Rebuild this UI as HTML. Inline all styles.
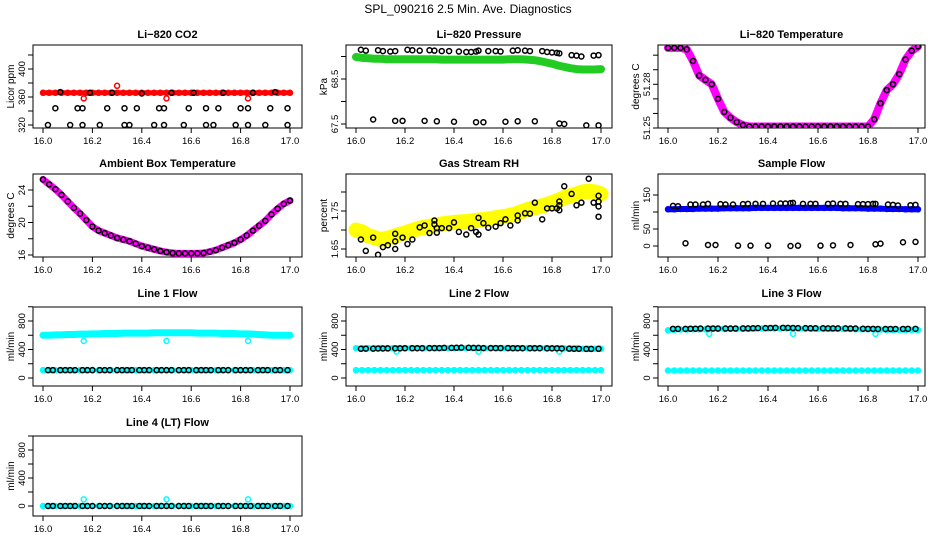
<!DOCTYPE html>
<html><head><meta charset="utf-8"><style>
body{margin:0;background:#fff;}
svg{display:block;font-family:"Liberation Sans",sans-serif;}
</style></head><body>
<svg id="c" width="936" height="540" viewBox="0 0 936 540">
<text x="468" y="13" text-anchor="middle" font-size="12">SPL_090216  2.5 Min. Ave. Diagnostics</text>
</svg>
<script>
const T41=[16.0,16.025,16.05,16.075,16.1,16.125,16.15,16.175,16.2,16.225,16.25,16.275,16.3,16.325,16.35,16.375,16.4,16.425,16.45,16.475,16.5,16.525,16.55,16.575,16.6,16.625,16.65,16.675,16.7,16.725,16.75,16.775,16.8,16.825,16.85,16.875,16.9,16.925,16.95,16.975,17.0];
const TB=[16.02,16.04,16.07,16.09,16.11,16.13,16.16,16.18,16.20,16.23,16.25,16.27,16.30,16.32,16.34,16.36,16.39,16.41,16.43,16.46,16.48,16.50,16.52,16.55,16.57,16.59,16.62,16.64,16.66,16.68,16.71,16.73,16.75,16.78,16.80,16.82,16.84,16.87,16.89,16.91,16.94,16.96,16.99];
const co2Red=[366,366,366,366,366,366,366,366,366,366,366,366,366,366,366,366,366,366,366,366,366,366,366,366,366,366,366,366,366,366,366,366,366,366,366,366,366,366,366,366,366];
const co2RedOutX=[16.165,16.30,16.50,16.83];
const co2RedOutY=[358,376,358,358];
const co2BlackX=[16.09,16.16,16.21,16.30,16.32,16.42,16.50,16.54,16.63,16.66,16.76,16.83,16.88,16.97,16.99,16.07,16.19,16.28,16.40,16.52,16.61,16.73,16.85,16.94,16.05,16.14,16.16,16.26,16.33,16.38,16.47,16.49,16.59,16.66,16.71,16.80,16.83,16.92,16.99,16.02,16.11,16.16,16.23,16.33,16.35,16.45,16.49,16.57,16.66,16.69,16.78,16.83,16.90,16.99];
const co2BlackY=[441,441,441,441,441,441,441,441,441,441,441,441,441,441,441,367,366,366,365,366,366,366,366,367,344,344,344,344,344,344,344,344,344,344,344,344,344,344,344,320,320,320,320,320,320,320,320,320,320,320,320,320,320,320];
const presGreen=[68.99,68.97,68.96,68.95,68.95,68.94,68.94,68.94,68.94,68.94,68.94,68.94,68.94,68.94,68.93,68.93,68.93,68.93,68.93,68.93,68.93,68.93,68.93,68.93,68.93,68.94,68.94,68.94,68.93,68.92,68.90,68.87,68.84,68.80,68.77,68.74,68.72,68.71,68.71,68.71,68.72];
const topX=[16.02,16.04,16.09,16.11,16.14,16.16,16.21,16.23,16.26,16.30,16.32,16.35,16.38,16.42,16.45,16.47,16.49,16.50,16.54,16.57,16.59,16.64,16.66,16.69,16.71,16.76,16.78,16.80,16.82,16.83,16.88,16.90,16.92,16.97,16.99];
const presTopY=[69.15,69.13,69.14,69.12,69.11,69.12,69.15,69.14,69.13,69.14,69.13,69.12,69.12,69.11,69.10,69.10,69.11,69.13,69.12,69.12,69.11,69.13,69.14,69.13,69.12,69.12,69.10,69.09,69.08,69.07,69.03,69.02,69.00,69.02,69.03];
const botX=[16.07,16.16,16.19,16.28,16.33,16.40,16.49,16.52,16.61,16.66,16.73,16.83,16.85,16.94,16.99];
const presBotY=[67.6,67.57,67.57,67.57,67.56,67.55,67.54,67.54,67.55,67.56,67.56,67.51,67.50,67.47,67.47];
const liTemp=[51.305,51.305,51.305,51.304,51.296,51.286,51.283,51.280,51.270,51.261,51.257,51.254,51.252,51.251,51.251,51.251,51.251,51.251,51.251,51.251,51.251,51.251,51.251,51.251,51.251,51.251,51.251,51.251,51.251,51.251,51.251,51.251,51.251,51.256,51.267,51.276,51.280,51.287,51.297,51.303,51.306];
const ambTemp=[25.3,24.7,24.1,23.4,22.6,21.8,21.1,20.3,19.5,19.0,18.7,18.4,18.1,17.9,17.7,17.4,17.1,16.9,16.7,16.5,16.35,16.25,16.2,16.2,16.2,16.2,16.25,16.4,16.6,16.9,17.2,17.5,17.9,18.4,19.0,19.6,20.2,21.0,21.7,22.3,22.7];
const rhYellow=[1.70,1.695,1.685,1.68,1.675,1.678,1.682,1.688,1.692,1.698,1.703,1.707,1.71,1.713,1.716,1.718,1.72,1.721,1.722,1.724,1.726,1.728,1.73,1.733,1.735,1.738,1.742,1.748,1.754,1.758,1.762,1.766,1.772,1.778,1.785,1.79,1.795,1.80,1.802,1.80,1.795];
const rhBlackX=[16.02,16.04,16.07,16.09,16.11,16.13,16.16,16.16,16.16,16.19,16.21,16.23,16.26,16.28,16.30,16.32,16.32,16.33,16.33,16.35,16.38,16.40,16.42,16.45,16.47,16.49,16.50,16.50,16.52,16.54,16.57,16.59,16.61,16.63,16.66,16.66,16.69,16.71,16.73,16.76,16.78,16.80,16.82,16.83,16.83,16.83,16.85,16.88,16.90,16.92,16.95,16.97,16.99,16.99,16.99,16.99];
const rhBlackY=[1.675,1.645,1.68,1.635,1.655,1.66,1.67,1.65,1.69,1.68,1.663,1.675,1.707,1.712,1.692,1.725,1.715,1.705,1.693,1.705,1.705,1.72,1.695,1.688,1.705,1.695,1.688,1.732,1.718,1.706,1.709,1.718,1.728,1.712,1.725,1.738,1.744,1.743,1.772,1.728,1.757,1.757,1.757,1.775,1.765,1.752,1.815,1.795,1.765,1.772,1.835,1.772,1.79,1.775,1.762,1.735];
const flowBlue=[108,108,109,109,109,110,110,110,110,111,111,111,111,111,112,112,112,112,112,112,112,112,112,112,112,112,112,112,111,111,111,111,110,110,110,109,109,109,108,108,108];
const flowTopY=[118,117,122,122,122,124,123,122,122,123,124,124,124,125,125,125,126,127,124,124,124,124,125,124,124,123,123,123,124,124,122,121,119,120,121];
const flowBotY=[8,3,3,1,1,1,0,1,1,2,3,5,7,11,12];
const l1Upper=[600,600,605,605,610,610,615,615,620,620,625,625,625,630,630,630,630,630,635,635,635,635,635,635,635,630,630,630,630,625,625,625,620,620,615,610,605,600,600,600,600];
const l1Lower=[110,110,110,110,110,110,110,110,110,110,110,110,110,110,110,110,110,110,110,110,110,110,110,110,110,110,110,110,110,110,110,110,110,110,110,110,110,110,110,110,110];
const l1Black=[110,110,110,110,110,110,110,110,110,110,110,110,110,110,110,110,110,110,110,110,110,110,110,110,110,110,110,110,110,110,110,110,110,110,110,110,110,110,110,110,110,110,110];
const dipX=[16.165,16.50,16.83];
const l1Dip=[520,520,520];
const l2Upper=[420,420,420,420,420,420,420,420,420,420,420,420,420,420,420,420,420,420,420,420,420,420,420,420,420,420,420,420,420,420,420,420,420,420,415,415,415,410,410,410,410];
const l2Lower=[110,110,110,110,110,110,110,110,110,110,110,110,110,110,110,110,110,110,110,110,110,110,110,110,110,110,110,110,110,110,110,110,110,110,110,110,110,110,110,110,110];
const l2Black=[410,412,412,414,414,415,416,416,418,418,418,418,420,420,420,422,422,424,426,424,422,422,420,420,420,420,420,418,418,418,418,418,418,416,416,416,414,412,410,410,408,408,410];
const l2Dip=[370,370,370];
const l3Upper=[670,675,680,680,685,685,685,690,690,690,690,690,690,690,695,695,695,695,695,695,695,695,690,690,690,690,690,690,690,690,685,685,685,680,680,675,675,675,675,675,675];
const l3Lower=[105,105,105,105,105,105,105,105,105,105,105,105,105,105,105,105,105,105,105,105,105,105,105,105,105,105,105,105,105,105,105,105,105,105,105,105,105,105,105,105,105];
const l3Black=[690,690,690,692,692,694,694,694,694,694,694,694,696,696,698,700,700,702,704,704,704,702,700,700,698,698,698,696,696,696,696,694,694,692,690,690,688,688,688,688,688,690,690];
const l3Dip=[620,620,620];
const l4Line=[0,0,0,0,0,0,0,0,0,0,0,0,0,0,0,0,0,0,0,0,0,0,0,0,0,0,0,0,0,0,0,0,0,0,0,0,0,0,0,0,0];
const l4Black=[0,0,0,0,0,0,0,0,0,0,0,0,0,0,0,0,0,0,0,0,0,0,0,0,0,0,0,0,0,0,0,0,0,0,0,0,0,0,0,0,0,0,0];
const l4Out=[95,95,95];

const xTicks=[16.0,16.2,16.4,16.6,16.8,17.0];
const xTickLabels=["16.0","16.2","16.4","16.6","16.8","17.0"];
const NS="http://www.w3.org/2000/svg";
const svg=document.getElementById('c');
const COLS=[{b0:33,b1:302,x0:43,x1:290},{b0:346,b1:612,x0:356,x1:601},{b0:658,b1:925,x0:668,x1:918}];
const ROWS=[{t:45,b:128,ty:38},{t:174,b:257,ty:167},{t:307,b:386,ty:297},{t:436,b:516,ty:426}];
function el(tag,attrs,parent){const e=document.createElementNS(NS,tag);for(const k in attrs)e.setAttribute(k,attrs[k]);(parent||svg).appendChild(e);return e;}

function panel(name,title,ylab,ci,ri,v0,p0,v1,p1,yticks,ylabels){
  const C=COLS[ci],R=ROWS[ri];
  const g=el('g',{});
  
  
  const sx=v=>C.x0+(v-16)*(C.x1-C.x0);
  const sy=v=>p0+(v-v0)*(p1-p0)/(v1-v0);
  const t=el('text',{x:(C.b0+C.b1)/2,y:R.ty,'text-anchor':'middle','font-size':'11','font-weight':'bold'},g);
  t.textContent=title;
  
  
  const yl=el('text',{transform:`translate(${C.b0-19},${(R.t+R.b)/2}) rotate(-90)`,'text-anchor':'middle','font-size':'10'},g);
  yl.textContent=ylab;
  
  
  const ax=el('g',{stroke:'#000','stroke-width':'1',fill:'none'},g);
  
  
  el('rect',{x:C.b0,y:R.t,width:C.b1-C.b0,height:R.b-R.t},ax);
  el('line',{x1:C.x0,x2:C.x1,y1:R.b,y2:R.b},ax);
  xTicks.forEach((v,i)=>{
    el('line',{x1:sx(v),x2:sx(v),y1:R.b,y2:R.b+5},ax);
    const tx=el('text',{x:sx(v),y:R.b+16,'text-anchor':'middle','font-size':'9.5'},g);
    tx.textContent=xTickLabels[i];
    
    
  });
  el('line',{x1:C.b0,x2:C.b0,y1:sy(yticks[0]),y2:sy(yticks[yticks.length-1])},ax);
  yticks.forEach(v=>{el('line',{x1:C.b0-5,x2:C.b0,y1:sy(v),y2:sy(v)},ax);});
  ylabels.forEach(lb=>{
    const ty=el('text',{transform:`translate(${C.b0-8},${sy(parseFloat(lb))}) rotate(-90)`,'text-anchor':'middle','font-size':'9.5'},g);
    ty.textContent=lb;
    
    
  });
  const clip='clip'+name;
  const cp=el('clipPath',{id:clip},g);el('rect',{x:C.b0,y:R.t,width:C.b1-C.b0,height:R.b-R.t},cp);
  const data=el('g',{'clip-path':`url(#${clip})`},g);
  return {
    band(xs,ys,color,w,nm){
      const pts=xs.map((x,i)=>sx(x)+','+sy(ys[i])).join(' ');
      const p=el('polyline',{points:pts,fill:'none',stroke:color,'stroke-width':w,'stroke-linejoin':'round','stroke-linecap':'round'},data);
      
      
      xs.forEach((x,i)=>{const c=el('circle',{cx:sx(x),cy:sy(ys[i]),r:2.6,fill:'none',stroke:color,'stroke-width':1.3},data);
        
        });
    },
    pts(xs,ys,color,nm){
      xs.forEach((x,i)=>{const c=el('circle',{cx:sx(x),cy:sy(ys[i]),r:2.5,fill:'none',stroke:color,'stroke-width':1.5},data);
        
        });
    }
  };
}
const FT=[0,200,400,600,800,1000],FL=["0","400","800"];
let p;
p=panel('co2','Li\u2212820 CO2','Licor ppm',0,0,320,125,400,69,[320,340,360,380,400,420],["320","360","400"]);
p.band(T41,co2Red,'#ff0000',5,'co2-series');p.pts(co2RedOutX,co2RedOutY,'#ff0000','co2-outlier');p.pts(co2BlackX,co2BlackY,'#000','co2-average-point');
p=panel('pressure','Li\u2212820 Pressure','kPa',1,0,67.5,124,68.5,79,[67.5,68.0,68.5,69.0],["67.5","68.5"]);
p.band(T41,presGreen,'#22cc22',8,'pressure-series');p.pts(topX,presTopY,'#000','pressure-average-point');p.pts(botX,presBotY,'#000','pressure-average-point');
p=panel('licor-temp','Li\u2212820 Temperature','degrees C',2,0,51.25,128,51.28,84.3,[51.25,51.26,51.27,51.28,51.29,51.30],["51.25","51.28"]);
p.band(T41,liTemp,'#ff00ff',8,'licor-temp-series');p.pts(T41,liTemp,'#000','licor-temp-average-point');
p=panel('ambient','Ambient Box Temperature','degrees C',0,1,16,255,24,190,[16,18,20,22,24],["16","20","24"]);
p.band(T41,ambTemp,'#ff00ff',7,'ambient-series');p.pts(T41,ambTemp,'#000','ambient-average-point');
p=panel('rh','Gas Stream RH','percent',1,1,1.65,249,1.75,211,[1.65,1.70,1.75,1.80],["1.65","1.75"]);
p.band(T41,rhYellow,'#ffff00',15,'rh-series');p.pts(rhBlackX,rhBlackY,'#000','rh-average-point');
p=panel('sample-flow','Sample Flow','ml/min',2,1,0,246,150,195,[0,50,100,150],["0","50","150"]);
p.band(T41,flowBlue,'#0000ff',6,'sample-flow-series');p.pts(topX,flowTopY,'#000','sample-flow-average-point');p.pts(botX,flowBotY,'#000','sample-flow-average-point');
p=panel('line1','Line 1 Flow','ml/min',0,2,0,378,800,321,FT,FL);
p.band(T41,l1Upper,'#00ffff',7,'line1-upper-series');p.band(T41,l1Lower,'#00ffff',4,'line1-lower-series');p.pts(dipX,l1Dip,'#00ffff','line1-outlier');p.pts(TB,l1Black,'#000','line1-average-point');
p=panel('line2','Line 2 Flow','ml/min',1,2,0,378,800,321,FT,FL);
p.band(T41,l2Upper,'#00ffff',5,'line2-upper-series');p.band(T41,l2Lower,'#00ffff',4,'line2-lower-series');p.pts(dipX,l2Dip,'#00ffff','line2-outlier');p.pts(TB,l2Black,'#000','line2-average-point');
p=panel('line3','Line 3 Flow','ml/min',2,2,0,378,800,321,FT,FL);
p.band(T41,l3Upper,'#00ffff',5,'line3-upper-series');p.band(T41,l3Lower,'#00ffff',4,'line3-lower-series');p.pts(dipX,l3Dip,'#00ffff','line3-outlier');p.pts(TB,l3Black,'#000','line3-average-point');
p=panel('line4','Line 4 (LT) Flow','ml/min',0,3,0,506,800,450,FT,FL);
p.band(T41,l4Line,'#00ffff',4,'line4-series');p.pts(dipX,l4Out,'#00ffff','line4-outlier');p.pts(TB,l4Black,'#000','line4-average-point');
</script>
</body></html>
